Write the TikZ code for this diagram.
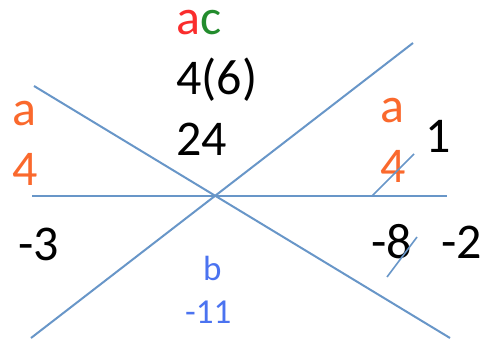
\documentclass[tikz,border=0pt]{standalone}
\usepackage{fontspec}
\setmainfont{Carlito}
\definecolor{linec}{RGB}{104,150,200}
\definecolor{orangec}{RGB}{250,105,45}
\definecolor{redc}{RGB}{250,45,45}
\definecolor{greenc}{RGB}{35,140,45}
\definecolor{bluec}{RGB}{75,115,240}
\begin{document}
\begin{tikzpicture}[x=1pt,y=-1pt,
  big/.style={inner sep=0pt,anchor=base west,font=\fontsize{50}{58}\selectfont},
  small/.style={inner sep=0pt,anchor=base west,font=\fontsize{35}{42}\selectfont,text=bluec},
  ln/.style={draw=linec,line width=2pt}]
\useasboundingbox (0,0) rectangle (486,339);
% lines
\coordinate (hL) at (32,196);
\coordinate (hR) at (447,196);
\coordinate (dUL) at (34,86);
\coordinate (dLR) at (450,338);
\coordinate (dLL) at (31,338);
\coordinate (dUR) at (413,43);
\draw[ln] (hL) -- (hR);
\draw[ln] (dUL) -- (dLR);
\draw[ln] (dLL) -- (dUR);
% texts
\node[big] (ac) at (176,35) {\textcolor{redc}{a}\textcolor{greenc}{c}};
\node[big] (f6) at (176,95) {4(6)};
\node[big] (t24) at (176,155) {24};
\node[big,text=orangec] (aL) at (12,126) {a};
\node[big,text=orangec] (fL) at (12,185) {4};
\node[big,text=orangec] (aR) at (380,123) {a};
\node[big,text=orangec] (fR) at (380,182) {4};
\node[big] (one) at (425,152) {1};
\node[big] (m3) at (18,260) {-3};
\node[big] (m8) at (371,258) {-8};
\node[big] (m2) at (441,258) {-2};
\node[small] (b) at (203,280) {b};
\node[small] (m11) at (185,323) {-11};
% strike-through slashes
\coordinate (s1a) at (372,196);
\coordinate (s1b) at (414,154);
\coordinate (s2a) at (387,277);
\coordinate (s2b) at (417,237);
\draw[ln,line width=1.6pt] (s1a) -- (s1b);
\draw[ln,line width=1.6pt] (s2a) -- (s2b);
\end{tikzpicture}
\end{document}
